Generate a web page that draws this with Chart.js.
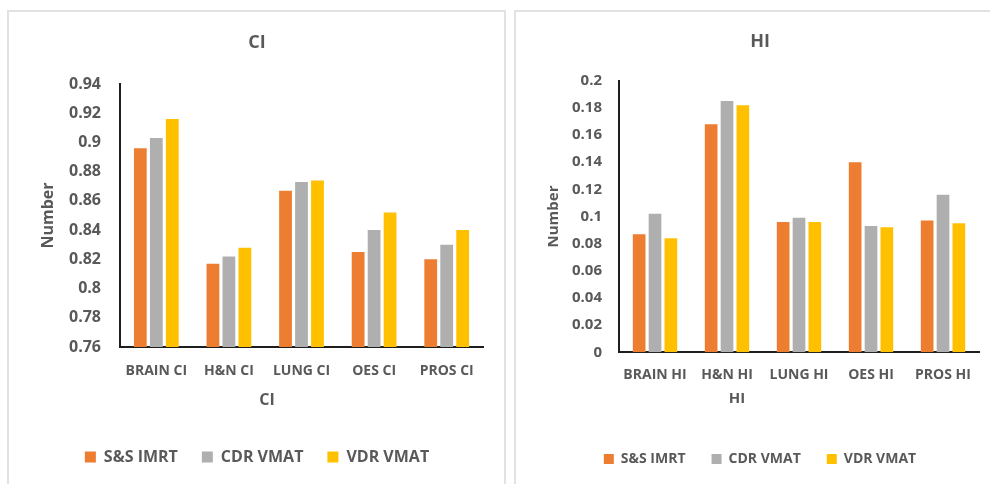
<!DOCTYPE html>
<html><head><meta charset="utf-8">
<script src="https://cdn.jsdelivr.net/npm/chart.js@4/dist/chart.umd.min.js"></script>
<style>
html,body{margin:0;padding:0;background:#fff;width:990px;height:484px;overflow:hidden;}
.panel{position:absolute;border:2px solid #e2e2e2;border-bottom:none;box-sizing:border-box;}
.panel canvas{position:absolute;left:0;top:0;}
</style></head><body>
<div class="panel" style="left:7px;top:10px;width:499px;height:474px;"><canvas id="c1" width="494" height="472"></canvas></div>
<div class="panel" style="left:514px;top:10px;width:476px;height:474px;border-right:none;"><canvas id="c2" width="474" height="472"></canvas></div>
<script>
// ---- data ----
const seriesNames = ['S&S IMRT', 'CDR VMAT', 'VDR VMAT'];
const ciCategories = ['BRAIN CI', 'H&N CI', 'LUNG CI', 'OES CI', 'PROS CI'];
const ciSSIMRT = [0.896, 0.817, 0.867, 0.825, 0.820];
const ciCDRVMAT = [0.903, 0.822, 0.873, 0.840, 0.830];
const ciVDRVMAT = [0.916, 0.828, 0.874, 0.852, 0.840];
const ciTickLabels = ['0.76','0.78','0.8','0.82','0.84','0.86','0.88','0.9','0.92','0.94'];

const hiCategories = ['BRAIN HI', 'H&N HI', 'LUNG HI', 'OES HI', 'PROS HI'];
const hiSSIMRT = [0.087, 0.168, 0.096, 0.140, 0.097];
const hiCDRVMAT = [0.102, 0.185, 0.099, 0.093, 0.116];
const hiVDRVMAT = [0.084, 0.182, 0.096, 0.092, 0.095];
const hiTickLabels = ['0','0.02','0.04','0.06','0.08','0.1','0.12','0.14','0.16','0.18','0.2'];

const colors = ['#ED7D31', '#AFAFAF', '#FFC000'];
const textColor = '#595959';
const FAM = '"Open Sans", "DejaVu Sans", sans-serif';

const xTitlePlugin = {
  id: 'xTitle',
  afterDraw(chart, args, o) {
    const {ctx, chartArea} = chart;
    ctx.save();
    ctx.font = 'bold ' + o.size + 'px ' + FAM;
    ctx.fillStyle = textColor;
    ctx.textAlign = 'center';
    ctx.textBaseline = 'middle';
    ctx.fillText(o.text, chartArea.left + o.fx * (chartArea.right - chartArea.left), chartArea.bottom + o.dy);
    ctx.restore();
  }
};

function makeChart(id, cfg) {
  const tickVals = cfg.ticks.map(Number);
  return new Chart(document.getElementById(id), {
    type: 'bar',
    data: {
      labels: cfg.categories,
      datasets: cfg.series.map((d, i) => ({
        label: seriesNames[i], data: d, backgroundColor: colors[i],
        categoryPercentage: 0.66, barPercentage: 0.8
      }))
    },
    plugins: [xTitlePlugin],
    options: {
      responsive: false, animation: false,
      layout: { padding: { left: cfg.padLeft, right: cfg.padRight, top: 0, bottom: cfg.padBottom } },
      plugins: {
        tooltip: { enabled: false },
        title: { display: true, text: cfg.title, color: textColor,
          font: { family: FAM, size: 18, weight: 'bold' },
          padding: { top: cfg.titleTop, bottom: cfg.titleBottom } },
        legend: { position: 'bottom',
          labels: { boxWidth: cfg.box, boxHeight: cfg.box, padding: cfg.legPad, color: textColor,
            font: { family: FAM, size: cfg.legSize, weight: 'bold' } } },
        xTitle: { text: cfg.xTitle, fx: cfg.xTitleFx, dy: cfg.xTitleDy, size: cfg.axisTitleSize }
      },
      scales: {
        x: {
          grid: { display: false, drawTicks: false },
          border: { display: true, color: '#1e1e1e', width: 2 },
          ticks: { color: textColor, padding: cfg.xPad, maxRotation: 0, font: { family: FAM, size: 14, weight: 'bold' } },
          afterFit: s => { s.height = cfg.xHeight; }
        },
        y: {
          min: tickVals[0], max: tickVals[tickVals.length - 1],
          afterBuildTicks: s => { s.ticks = tickVals.map(v => ({ value: v })); },
          grid: { display: false, drawTicks: false },
          border: { display: true, color: '#1e1e1e', width: 2 },
          ticks: { color: textColor, padding: cfg.yPad,
            font: { family: FAM, size: cfg.yTickSize, weight: 'bold' },
            callback: (v) => cfg.ticks[tickVals.indexOf(v)] ?? '' },
          title: { display: true, text: 'Number', color: textColor,
            font: { family: FAM, size: cfg.axisTitleSize, weight: 'bold' },
            padding: { top: cfg.yTitlePad, bottom: 0 } },
          afterFit: s => { s.width = cfg.yWidth; }
        }
      }
    }
  });
}

makeChart('c1', {
  categories: ciCategories, series: [ciSSIMRT, ciCDRVMAT, ciVDRVMAT], ticks: ciTickLabels,
  title: 'CI', xTitle: 'CI', xTitleFx: 0.405, xTitleDy: 53, axisTitleSize: 16,
  titleTop: 20, titleBottom: 30.4, padLeft: 22, padRight: 20, padBottom: 9, xHeight: 78,
  box: 11, legPad: 24, legSize: 16, yTickSize: 16, yPad: 19, yWidth: 89, yTitlePad: 7.4, xPad: 16
});
makeChart('c2', {
  categories: hiCategories, series: [hiSSIMRT, hiCDRVMAT, hiVDRVMAT], ticks: hiTickLabels,
  title: 'HI', xTitle: 'HI', xTitleFx: 0.328, xTitleDy: 46, axisTitleSize: 15,
  titleTop: 19.2, titleBottom: 27.9, padLeft: 25, padRight: 11, padBottom: 8, xHeight: 73.7,
  box: 10, legPad: 26, legSize: 14, yTickSize: 15, yPad: 17, yWidth: 78, yTitlePad: 4, xPad: 14
});
</script>
</body></html>
